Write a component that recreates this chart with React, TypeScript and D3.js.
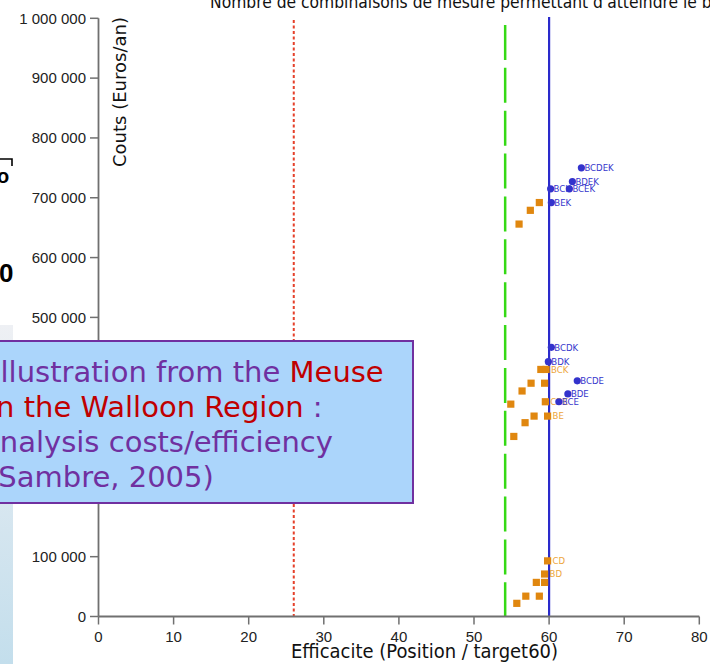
import React from "react";
import * as d3 from "d3";

const W = 710;
const H = 664;

const titleText = "Nombre de combinaisons de mesure permettant d'atteindre le b";
const yLabel = "Couts (Euros/an)";
const xLabel = "Efficacite (Position / target60)";

const xTicks = [0, 10, 20, 30, 40, 50, 60, 70, 80];
const yTicks = [0, 100000, 200000, 300000, 400000, 500000, 600000, 700000, 800000, 900000, 1000000];

// reference lines (efficacité)
const refRed = 26;
const refGreen = 54.15;
const refBlue = 60;

// blue series (labelled combinations)
const blueX = [64.3, 63.1, 60.2, 62.7, 60.3, 60.3, 59.9, 63.75, 62.5, 61.3];
const blueCost = [750000, 727000, 715000, 715000, 692000, 450000, 426000, 394000, 372000, 359000];
const blueLabels = ["BCDEK", "BDEK", "BCK", "BCEK", "BEK", "BCDK", "BDK", "BCDE", "BDE", "BCE"];

// orange series
const orangeX = [58.7, 57.5, 56.0, 58.9, 59.6, 57.6, 59.4, 56.4, 59.5, 54.9, 59.8, 58.0, 56.8, 55.3, 59.8, 59.4, 58.3, 59.4, 56.9, 58.7, 55.7];
const orangeCost = [692000, 679000, 656000, 413000, 413000, 390000, 390000, 377000, 359000, 355000, 335000, 335000, 324000, 301000, 93000, 71000, 57000, 57000, 34000, 34000, 22000];
const orangeLabels = ["", "", "", "", "BCK", "", "", "", "CDE", "", "BE", "", "", "", "CD", "BD", "", "", "", "", ""];

const boxLines = [
  [{ t: "Illustration from the ", c: "#7030a0" }, { t: "Meuse", c: "#c00000" }],
  [{ t: "in the Walloon Region ", c: "#c00000" }, { t: ":", c: "#7030a0" }],
  [{ t: "Analysis costs/efficiency", c: "#7030a0" }],
  [{ t: "(Sambre, 2005)", c: "#7030a0" }],
];
const boxLineX = [-8, -12, -20, -13];

const fmt = d3.formatLocale({ thousands: "\u00a0", grouping: [3], decimal: ",", currency: ["", "€"] }).format(",d");

export default function App() {
  const x = d3.scaleLinear().domain([0, 80]).range([98.5, 699.3]);
  const y = d3.scaleLinear().domain([0, 1000000]).range([616.5, 18.3]);
  const axisColor = "#707070";
  const tickFont = "'Liberation Sans', Arial, sans-serif";
  const condFont = "'DejaVu Sans Condensed', 'DejaVu Sans', sans-serif";

  return (
    <svg width={W} height={H} style={{ position: "fixed", left: 0, top: 0, background: "#fff" }}>
      <defs>
        <linearGradient id="strip" x1="0" y1="0" x2="0" y2="1">
          <stop offset="0" stopColor="#eef0f4" />
          <stop offset="1" stopColor="#c3deec" />
        </linearGradient>
      </defs>
      <rect x={0} y={0} width={W} height={H} fill="#fff" />
      <rect x={0} y={325} width={13} height={H - 325} fill="url(#strip)" />

      {/* slide fragments at left */}
      <path d="M0,159 H12 V166" fill="none" stroke="#000" strokeWidth={1.6} />
      <text x={-3} y={182.5} fontFamily={tickFont} fontWeight="bold" fontSize={20} fill="#000">o</text>
      <text x={-1} y={282} fontFamily={tickFont} fontWeight="bold" fontSize={26} fill="#000">0</text>

      {/* title */}
      <text x={210} y={8} fontFamily={condFont} fontSize={17.3} fill="#111">{titleText}</text>

      {/* reference lines */}
      <line x1={x(refRed)} x2={x(refRed)} y1={20} y2={y(0)} stroke="#e5402a" strokeWidth={2} strokeDasharray="3,2.5" />
      <line x1={x(refGreen)} x2={x(refGreen)} y1={25} y2={y(0)} stroke="#35d915" strokeWidth={2.5} strokeDasharray="35,7.87" />
      <line x1={x(refBlue)} x2={x(refBlue)} y1={17} y2={y(0)} stroke="#2a2acb" strokeWidth={2.2} />

      {/* axes */}
      <line x1={x(0)} x2={x(0)} y1={y(1000000)} y2={y(0)} stroke={axisColor} strokeWidth={1.8} />
      <line x1={x(0)} x2={x(80)} y1={y(0)} y2={y(0)} stroke={axisColor} strokeWidth={1.8} />
      {yTicks.map((t) => (
        <g key={"y" + t}>
          <line x1={x(0) - 8.5} x2={x(0)} y1={y(t)} y2={y(t)} stroke={axisColor} strokeWidth={1.5} />
          <text x={86} y={y(t) + 5.2} textAnchor="end" fontFamily={tickFont} fontSize={15} fill="#222">{fmt(t)}</text>
        </g>
      ))}
      {xTicks.map((t) => (
        <g key={"x" + t}>
          <line x1={x(t)} x2={x(t)} y1={y(0)} y2={y(0) + 8} stroke={axisColor} strokeWidth={1.5} />
          <text x={x(t)} y={642} textAnchor="middle" fontFamily={tickFont} fontSize={15} fill="#222">{t}</text>
        </g>
      ))}

      {/* axis titles */}
      <text transform={`translate(126,92) rotate(-90)`} textAnchor="middle" fontFamily={condFont} fontSize={18} textLength={150} lengthAdjust="spacingAndGlyphs" fill="#111">{yLabel}</text>
      <text x={424.5} y={658} textAnchor="middle" fontFamily={condFont} fontSize={19} textLength={267} lengthAdjust="spacingAndGlyphs" fill="#111">{xLabel}</text>

      {/* orange points */}
      {orangeX.map((v, i) => (
        <g key={"o" + i}>
          <rect x={x(v) - 3.6} y={y(orangeCost[i]) - 3.6} width={7.2} height={7.2} fill="#e0870f" />
          {orangeLabels[i] && (
            <text x={x(v) + 5} y={y(orangeCost[i]) + 3.3} fontFamily={condFont} fontSize={9.5} fill="#eda53a">{orangeLabels[i]}</text>
          )}
        </g>
      ))}

      {/* blue points */}
      {blueX.map((v, i) => (
        <g key={"b" + i}>
          <circle cx={x(v)} cy={y(blueCost[i])} r={3.6} fill="#3333cc" />
          <text x={x(v) + 3} y={y(blueCost[i]) + 3.3} fontFamily={condFont} fontSize={9.5} fill="#3535cc">{blueLabels[i]}</text>
        </g>
      ))}

      {/* overlay box */}
      <rect x={-5} y={341} width={418} height={162} fill="#abd5fb" stroke="#7030a0" strokeWidth={2} />
      {boxLines.map((line, li) => (
        <text key={"bl" + li} x={boxLineX[li]} y={382 + li * 35} fontFamily="'DejaVu Sans', Verdana, sans-serif" fontSize={29}>
          {line.map((s, si) => (
            <tspan key={si} fill={s.c}>{s.t}</tspan>
          ))}
        </text>
      ))}
    </svg>
  );
}
